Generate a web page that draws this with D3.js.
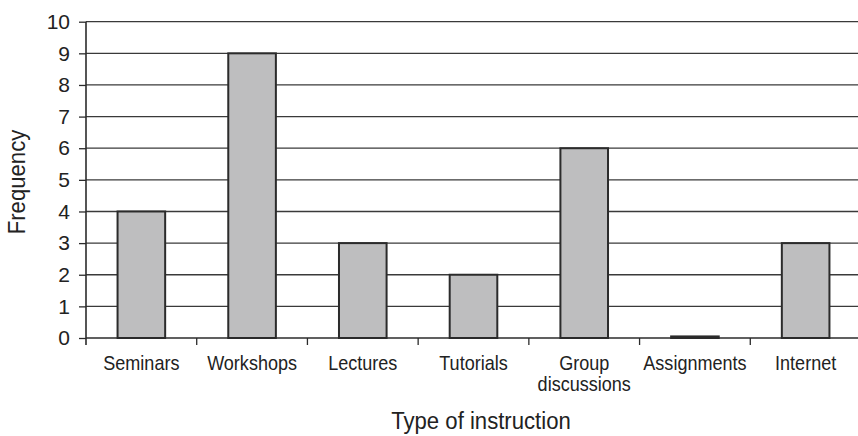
<!DOCTYPE html>
<html>
<head>
<meta charset="utf-8">
<script src="https://cdn.jsdelivr.net/npm/d3@7"></script>
<style>
  html, body { margin: 0; padding: 0; background: #fff; }
  svg { display: block; }
  text { font-family: "Liberation Sans", Arial, Helvetica, sans-serif; fill: #222; }
</style>
</head>
<body>
<svg id="chart" width="858" height="436"></svg>
<script>
// Survey: how often each type of instruction was named
const categories = ["Seminars", "Workshops", "Lectures", "Tutorials", "Group\ndiscussions", "Assignments", "Internet"];
const frequencies = [4, 9, 3, 2, 6, 0.05, 3];
const yTicks = [0, 1, 2, 3, 4, 5, 6, 7, 8, 9, 10];
const xTitle = "Type of instruction";
const yTitle = "Frequency";

const svg = d3.select("#chart");
const plotLeft = 86, plotRight = 861, plotTop = 21.7, plotBottom = 338;

const x = d3.scaleBand().domain(categories).range([plotLeft, plotRight]).padding(0);
const y = d3.scaleLinear().domain([0, 10]).range([plotBottom, plotTop]);
const barW = x.bandwidth() * 0.43;

const ink = "#2b2b2b";

// horizontal gridlines
svg.append("g")
  .selectAll("line")
  .data(yTicks.filter(d => d > 0))
  .join("line")
  .attr("x1", plotLeft).attr("x2", plotRight)
  .attr("y1", d => y(d)).attr("y2", d => y(d))
  .attr("stroke", "#3a3a3a").attr("stroke-width", 1.3);

// bars
svg.append("g")
  .selectAll("rect")
  .data(categories)
  .join("rect")
  .attr("x", (d) => x(d) + (x.bandwidth() - barW) / 2)
  .attr("width", barW)
  .attr("y", (d, i) => y(frequencies[i]))
  .attr("height", (d, i) => y(0) - y(frequencies[i]))
  .attr("fill", "#bebebf")
  .attr("stroke", ink)
  .attr("stroke-width", 2);

// y axis
const yAxis = d3.axisLeft(y).tickValues(yTicks).tickSize(7).tickPadding(9).tickFormat(d3.format("d"));
const gy = svg.append("g").attr("transform", `translate(${plotLeft},0)`).call(yAxis);
gy.select(".domain").remove();
gy.selectAll(".tick line").attr("stroke", ink).attr("stroke-width", 1.3);
gy.selectAll(".tick text").attr("font-size", 21).attr("fill", "#222")
  .attr("font-family", "Liberation Sans, Arial, sans-serif");
svg.append("line")
  .attr("x1", plotLeft).attr("x2", plotLeft)
  .attr("y1", plotTop).attr("y2", plotBottom + 7)
  .attr("stroke", ink).attr("stroke-width", 1.6);

// x axis baseline and ticks at band boundaries
svg.append("line")
  .attr("x1", plotLeft).attr("x2", plotRight)
  .attr("y1", plotBottom).attr("y2", plotBottom)
  .attr("stroke", ink).attr("stroke-width", 1.6);
svg.append("g")
  .selectAll("line")
  .data(categories.slice(1))
  .join("line")
  .attr("x1", d => x(d)).attr("x2", d => x(d))
  .attr("y1", plotBottom).attr("y2", plotBottom + 7)
  .attr("stroke", ink).attr("stroke-width", 1.3);

// category labels (slightly condensed type)
const labels = svg.append("g")
  .selectAll("text")
  .data(categories)
  .join("text")
  .attr("transform", d => `translate(${x(d) + x.bandwidth() / 2},370) scale(0.88,1)`)
  .attr("text-anchor", "middle")
  .attr("font-size", 20.5);
labels.selectAll("tspan")
  .data(d => d.split("\n"))
  .join("tspan")
  .attr("x", 0)
  .attr("dy", (d, i) => i === 0 ? 0 : 21.5)
  .text(d => d);

// axis titles
svg.append("text")
  .attr("transform", "translate(481,429) scale(0.95,1)")
  .attr("text-anchor", "middle")
  .attr("font-size", 23.3)
  .text(xTitle);

svg.append("text")
  .attr("transform", "translate(25,182) rotate(-90) scale(0.95,1)")
  .attr("text-anchor", "middle")
  .attr("font-size", 23.3)
  .text(yTitle);
</script>
</body>
</html>
